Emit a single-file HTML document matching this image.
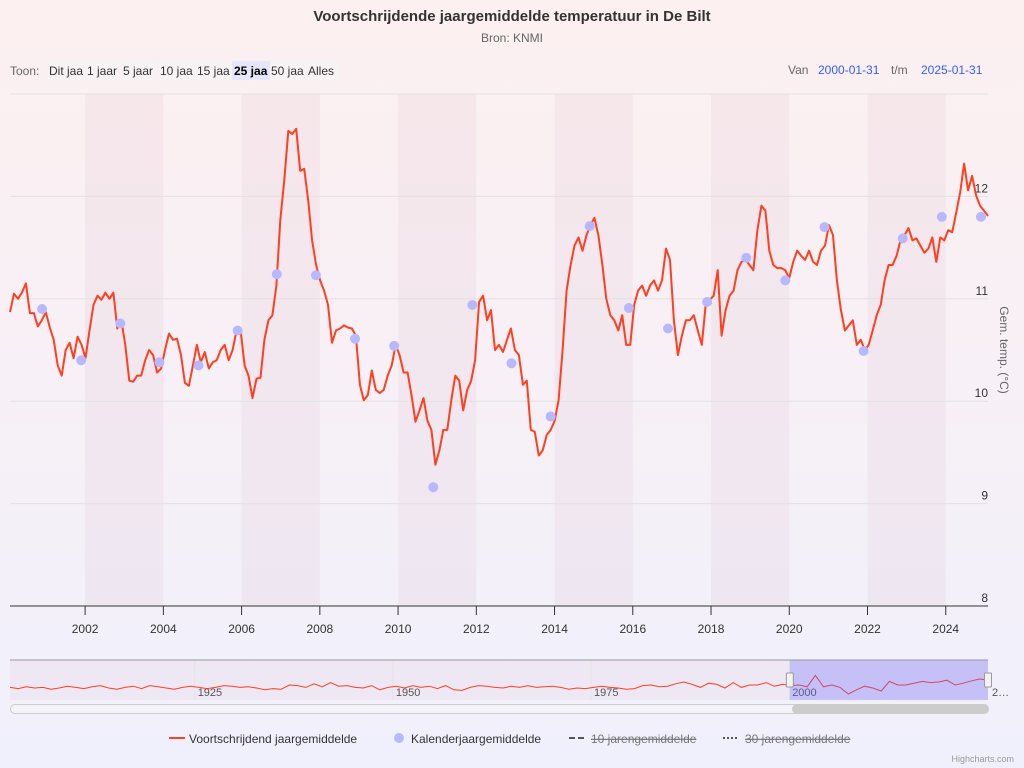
<!DOCTYPE html>
<html><head><meta charset="utf-8">
<style>
html,body{margin:0;padding:0;width:1024px;height:768px;overflow:hidden}
body{background:linear-gradient(180deg,#fcf0f0 0%,#f7f0f6 50%,#f0f0fc 100%);font-family:"Liberation Sans",sans-serif}
svg{position:absolute;left:0;top:0}
text{font-family:"Liberation Sans",sans-serif}
</style></head>
<body>
<svg id="chart" width="1024" height="768">
<text x="512" y="21" text-anchor="middle" font-size="15" font-weight="bold" fill="#333">Voortschrijdende jaargemiddelde temperatuur in De Bilt</text>
<text x="512" y="42" text-anchor="middle" font-size="12" fill="#666">Bron: KNMI</text>
<g>
<text x="10" y="75" font-size="12" fill="#666">Toon:</text>
<rect x="48" y="61" width="38" height="19" fill="#f7f2f4"/><text x="49" y="75" font-size="12" fill="#333">Dit jaa</text>
<rect x="86" y="61" width="33" height="19" fill="#f7f2f4"/><text x="87" y="75" font-size="12" fill="#333">1 jaar</text>
<rect x="121" y="61" width="35" height="19" fill="#f7f2f4"/><text x="123" y="75" font-size="12" fill="#333">5 jaar</text>
<rect x="158" y="61" width="38" height="19" fill="#f7f2f4"/><text x="160" y="75" font-size="12" fill="#333">10 jaa</text>
<rect x="196" y="61" width="36" height="19" fill="#f7f2f4"/><text x="197" y="75" font-size="12" fill="#333">15 jaa</text>
<rect x="232" y="61" width="38" height="19" fill="#e6e6fb"/><text x="234" y="75" font-size="12" font-weight="bold" fill="#000">25 jaa</text>
<rect x="270" y="61" width="68" height="19" fill="#f7f2f4"/><text x="271" y="75" font-size="12" fill="#333">50 jaa</text>
<text x="308" y="75" font-size="12" fill="#333">Alles</text>
</g>
<g>
<text x="788" y="74" font-size="12" fill="#666">Van</text>
<text x="818" y="74" font-size="12" fill="#335cff">2000-01-31</text>
<text x="891" y="74" font-size="12" fill="#666">t/m</text>
<text x="921" y="74" font-size="12" fill="#335cff">2025-01-31</text>
</g>
<g id="plot"></g>
<g id="nav"></g>
<g>
<g><line x1="169" y1="738" x2="185" y2="738" stroke="#ff3f1f" stroke-width="2"/><text x="189" y="743" font-size="12" fill="#333">Voortschrijdend jaargemiddelde</text></g>
<g><circle cx="399" cy="738" r="5" fill="#b8b8ff"/><text x="411" y="743" font-size="12" fill="#333">Kalenderjaargemiddelde</text></g>
<g><line x1="569" y1="738" x2="585" y2="738" stroke="#555" stroke-width="2" stroke-dasharray="6,3"/><text x="591" y="743" font-size="12" fill="#777" text-decoration="line-through">10 jarengemiddelde</text></g>
<g><line x1="723" y1="738" x2="739" y2="738" stroke="#555" stroke-width="2" stroke-dasharray="2,2"/><text x="745" y="743" font-size="12" fill="#777" text-decoration="line-through">30 jarengemiddelde</text></g>
</g>
<text x="1014" y="762" text-anchor="end" font-size="9" fill="#999">Highcharts.com</text>
</svg>
<script>
const rollingValues=[10.87,11.05,11.00,11.06,11.15,10.86,10.86,10.73,10.79,10.87,10.72,10.60,10.35,10.25,10.50,10.57,10.42,10.63,10.55,10.42,10.69,10.94,11.03,10.99,11.06,11.00,11.06,10.71,10.79,10.55,10.20,10.19,10.25,10.25,10.40,10.50,10.45,10.28,10.32,10.50,10.66,10.60,10.61,10.45,10.18,10.15,10.35,10.55,10.38,10.48,10.32,10.38,10.40,10.50,10.55,10.40,10.50,10.69,10.69,10.35,10.25,10.03,10.22,10.23,10.60,10.79,10.84,11.13,11.77,12.16,12.64,12.61,12.66,12.25,12.27,11.96,11.57,11.33,11.18,11.08,10.94,10.57,10.69,10.71,10.74,10.72,10.71,10.64,10.16,10.01,10.06,10.30,10.11,10.08,10.11,10.25,10.35,10.55,10.45,10.28,10.28,10.06,9.80,9.91,10.03,9.81,9.72,9.38,9.52,9.72,9.72,10.01,10.25,10.20,9.91,10.11,10.20,10.40,10.97,11.03,10.79,10.89,10.50,10.55,10.48,10.60,10.71,10.50,10.45,10.16,10.20,9.72,9.70,9.47,9.52,9.67,9.72,9.81,10.01,10.50,11.08,11.33,11.52,11.60,11.47,11.62,11.72,11.79,11.62,11.33,11.00,10.84,10.79,10.69,10.84,10.55,10.55,10.94,11.08,11.13,11.03,11.13,11.18,11.08,11.18,11.49,11.38,10.79,10.45,10.64,10.79,10.79,10.84,10.69,10.55,10.94,10.99,11.03,11.28,10.64,10.89,11.03,11.08,11.28,11.36,11.38,11.33,11.28,11.67,11.91,11.86,11.47,11.33,11.30,11.30,11.28,11.20,11.36,11.47,11.42,11.38,11.47,11.36,11.33,11.47,11.52,11.72,11.62,11.18,10.89,10.69,10.74,10.79,10.55,10.60,10.50,10.55,10.69,10.84,10.94,11.18,11.33,11.33,11.42,11.57,11.62,11.69,11.57,11.59,11.52,11.45,11.49,11.60,11.36,11.60,11.57,11.67,11.65,11.84,12.04,12.32,12.06,12.20,12.01,11.91,11.86,11.81];
const rollingStart=2000.08, rollingEnd=2025.08;
const calendarYears=[2000,2001,2002,2003,2004,2005,2006,2007,2008,2009,2010,2011,2012,2013,2014,2015,2016,2017,2018,2019,2020,2021,2022,2023,2024];
const calendarValues=[10.90,10.40,10.76,10.38,10.35,10.69,11.24,11.23,10.61,10.54,9.16,10.94,10.37,9.85,11.71,10.91,10.71,10.97,11.40,11.18,11.70,10.49,11.59,11.80,11.80];
const yTicks=[8,9,10,11,12];
const xTicks=[2002,2004,2006,2008,2010,2012,2014,2016,2018,2020,2022,2024];
const bandStarts=[2002,2006,2010,2014,2018,2022];
const navValues=[10.6,10.4,10.7,10.5,10.6,10.3,10.5,10.8,10.6,10.4,10.7,10.9,10.5,10.3,10.6,10.8,10.4,10.9,10.7,10.5,10.3,10.6,10.8,10.6,10.4,10.6,10.9,10.8,10.6,10.7,10.5,10.2,10.4,10.3,11.0,10.9,10.6,11.2,10.7,11.4,10.8,10.9,10.6,10.5,10.9,10.2,10.6,10.8,10.5,10.9,10.6,10.8,10.4,10.9,10.2,10.1,10.6,10.9,10.8,10.6,10.5,10.8,10.6,10.9,10.6,10.7,10.8,10.6,10.3,10.5,10.4,10.6,10.8,10.6,10.5,10.3,10.4,10.9,11.0,10.7,10.8,11.2,11.5,11.1,10.6,11.3,11.1,10.5,11.4,10.6,11.0,11.0,11.4,10.8,11.1,10.9,11.0,10.7,12.6,10.7,11.0,10.6,9.5,10.2,10.8,10.5,10.0,11.6,11.0,11.0,11.3,11.6,11.4,11.5,11.8,11.0,11.3,11.7,12.0,11.8];
const navStart=1901.7, navEnd=2025.08;
const NS='http://www.w3.org/2000/svg';
const L=10,R=988,T=94,B=606;
const xs=yr=>L+(yr-2000.08)/(25)*(R-L);
const ys=v=>B-(v-8)*102.4;
function el(tag,attrs,parent){const e=document.createElementNS(NS,tag);for(const k in attrs)e.setAttribute(k,attrs[k]);parent.appendChild(e);return e;}
const plot=document.getElementById('plot');
bandStarts.forEach(b=>{
 const r=el('rect',{x:xs(b),y:T,width:xs(b+2)-xs(b),height:B-T,fill:'rgba(160,80,110,0.05)'},plot);
 
 
});
[...yTicks,13].forEach(v=>{
 const g=el('line',{x1:L,x2:R,y1:ys(v),y2:ys(v),stroke:'#e2e2e2','stroke-width':1},plot);
 
 
});
yTicks.forEach(v=>{
 const t=el('text',{x:R,y:ys(v)-4,'text-anchor':'end','font-size':12,fill:'#333'},plot);t.textContent=v;
 
 
});
const ax=el('line',{x1:L,x2:R,y1:B,y2:B,stroke:'#333','stroke-width':1},plot);


xTicks.forEach(y=>{
 const x=xs(y);
 const tk=el('line',{x1:x,x2:x,y1:B,y2:B+9,stroke:'#333'},plot);
 
 
 const t=el('text',{x:x,y:B+27,'text-anchor':'middle','font-size':12,fill:'#333'},plot);t.textContent=y;
 
 
});
const yt=el('text',{x:0,y:0,'text-anchor':'middle','font-size':12,fill:'#666',transform:'translate(1000,350) rotate(90)'},plot);yt.textContent='Gem. temp. (°C)';


const step=(rollingEnd-rollingStart)/(rollingValues.length-1);
const d=rollingValues.map((v,i)=>(i?'L':'M')+xs(rollingStart+i*step).toFixed(1)+','+ys(v).toFixed(1)).join('');
const ln=el('path',{d:d,fill:'none',stroke:'#ff3f1f','stroke-width':2,'stroke-linejoin':'round'},plot);


calendarYears.forEach((y,i)=>{
 const c=el('circle',{cx:xs(y+0.9),cy:ys(calendarValues[i]),r:5,fill:'#b8b8ff'},plot);
 
 
});
// navigator
const nav=document.getElementById('nav');
const NL=10,NR=988,NT=660,NB=700;
const nx=yr=>NL+(yr-navStart)/(navEnd-navStart)*(NR-NL);
const ny=v=>NB-6-(v-9.5)*6;
const nbg=el('rect',{x:NL,y:NT,width:NR-NL,height:NB-NT,fill:'rgba(200,120,150,0.07)'},nav);


[1925,1950,1975,2000].forEach(y=>{
 const g=el('line',{x1:nx(y),x2:nx(y),y1:NT,y2:NB,stroke:'#e4e4e4'},nav);
 
 
 const t=el('text',{x:nx(y)+3,y:NB-4,'font-size':11,fill:'#555'},nav);t.textContent=y;
 
 
});
const nstep=(navEnd-navStart)/(navValues.length-1);
const nd=navValues.map((v,i)=>(i?'L':'M')+nx(navStart+i*nstep).toFixed(1)+','+ny(v).toFixed(1)).join('');
const nl=el('path',{d:nd,fill:'none',stroke:'#ff3f1f','stroke-width':1},nav);


const mk=el('rect',{x:nx(2000.08),y:NT,width:NR-nx(2000.08),height:NB-NT,fill:'rgba(102,102,255,0.3)'},nav);


const ol=el('line',{x1:NL,x2:NR,y1:NT,y2:NT,stroke:'#999'},nav);


const t2=el('text',{x:992,y:NB-4,'font-size':11,fill:'#555'},nav);t2.textContent='2…';


[nx(2000.08),NR].forEach((x,i)=>{
 const h=el('rect',{x:x-3.5,y:673,width:7,height:14,fill:'#f2f2f2',stroke:'#999',rx:1},nav);
 
 
});
const sb=el('rect',{x:10.5,y:704.5,width:978,height:9,rx:4.5,fill:'#f5f3fa',stroke:'#ccc'},nav);


const th=el('rect',{x:792,y:704,width:197,height:10,rx:5,fill:'#ccc'},nav);


</script>
</body></html>
